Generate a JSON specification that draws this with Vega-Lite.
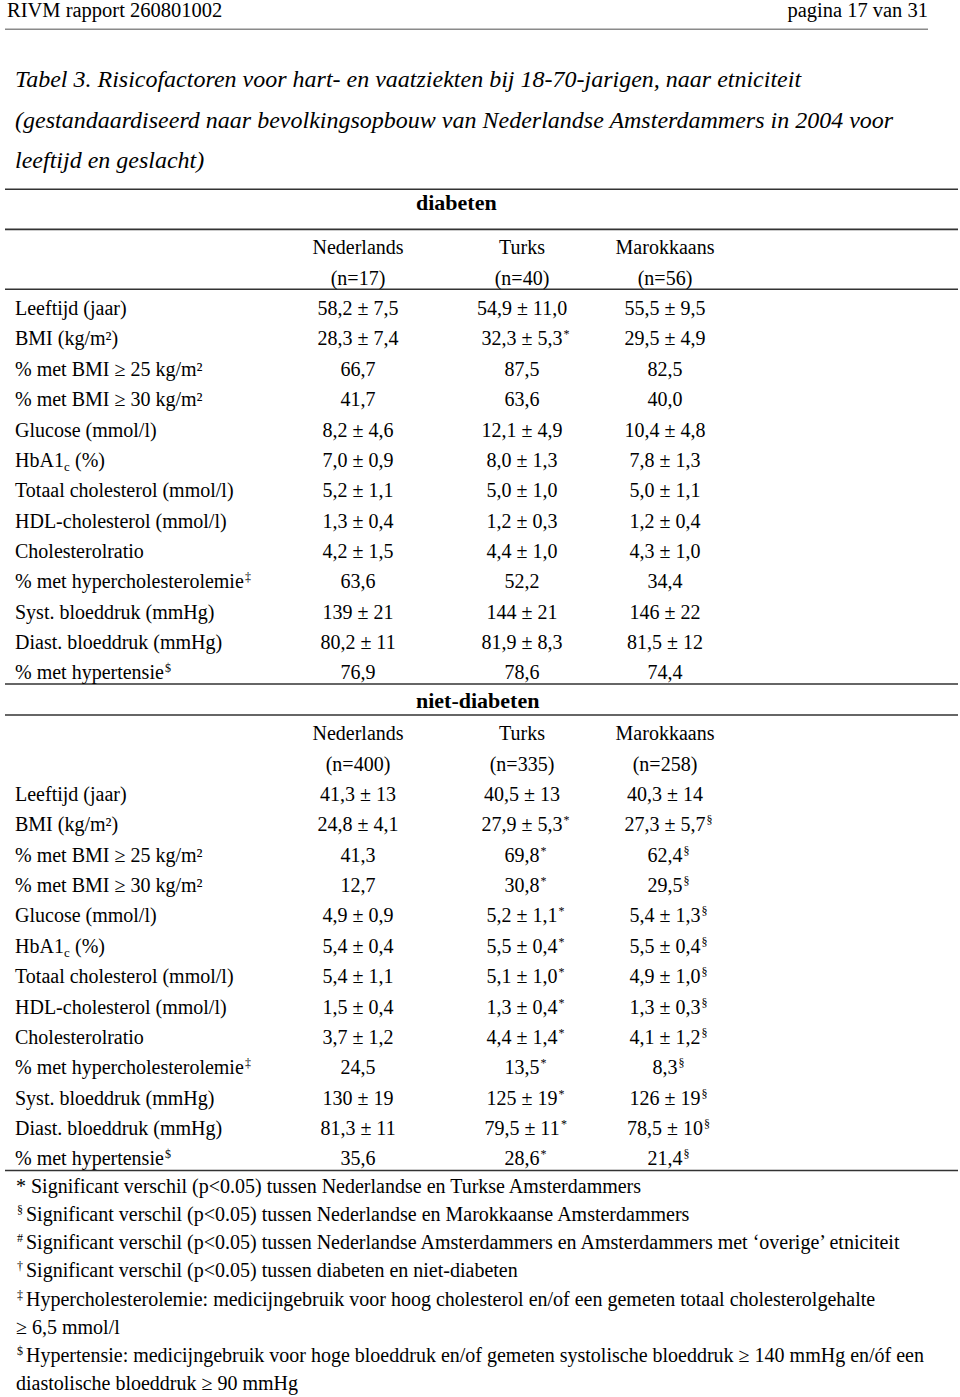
{
  "$schema": "https://vega.github.io/schema/vega-lite/v6.json",
  "width": 960,
  "height": 1397,
  "autosize": {"type": "fit", "contains": "padding"},
  "padding": 0,
  "background": "white",
  "config": {
    "view": {"stroke": null},
    "text": {"font": "Liberation Serif", "fontSize": 20, "color": "#000000", "baseline": "alphabetic"}
  },
  "datasets": {
    "page": [
      {"line": 0, "c": -1, "kind": "left", "t": "RIVM rapport 260801002"},
      {"line": 0, "c": 4, "kind": "right", "t": "pagina 17 van 31"},
      {"line": 1, "c": -1, "c2": 4, "kind": "rule"}
    ],
    "title": [
      {"line": 1, "c": 0, "t": "Tabel 3. Risicofactoren voor hart- en vaatziekten bij 18-70-jarigen, naar etniciteit"},
      {"line": 2, "c": 0, "t": "(gestandaardiseerd naar bevolkingsopbouw van Nederlandse Amsterdammers in 2004 voor"},
      {"line": 3, "c": 0, "t": "leeftijd en geslacht)"}
    ],
    "cells": [
      {"row": 0, "c": 1, "v": "Nederlands"}, {"row": 0, "c": 2, "v": "Turks"}, {"row": 0, "c": 3, "v": "Marokkaans"},
      {"row": 1, "c": 1, "v": "(n=17)"}, {"row": 1, "c": 2, "v": "(n=40)"}, {"row": 1, "c": 3, "v": "(n=56)"},
      {"row": 2, "c": 0, "v": "Leeftijd (jaar)"}, {"row": 2, "c": 1, "v": "58,2 ± 7,5"}, {"row": 2, "c": 2, "v": "54,9 ± 11,0"}, {"row": 2, "c": 3, "v": "55,5 ± 9,5"},
      {"row": 3, "c": 0, "v": "BMI (kg/m²)"}, {"row": 3, "c": 1, "v": "28,3 ± 7,4"}, {"row": 3, "c": 2, "v": "32,3 ± 5,3", "s": "*"}, {"row": 3, "c": 3, "v": "29,5 ± 4,9"},
      {"row": 4, "c": 0, "v": "% met BMI ≥ 25 kg/m²"}, {"row": 4, "c": 1, "v": "66,7"}, {"row": 4, "c": 2, "v": "87,5"}, {"row": 4, "c": 3, "v": "82,5"},
      {"row": 5, "c": 0, "v": "% met BMI ≥ 30 kg/m²"}, {"row": 5, "c": 1, "v": "41,7"}, {"row": 5, "c": 2, "v": "63,6"}, {"row": 5, "c": 3, "v": "40,0"},
      {"row": 6, "c": 0, "v": "Glucose (mmol/l)"}, {"row": 6, "c": 1, "v": "8,2 ± 4,6"}, {"row": 6, "c": 2, "v": "12,1 ± 4,9"}, {"row": 6, "c": 3, "v": "10,4 ± 4,8"},
      {"row": 7, "c": 0, "v": "HbA1"}, {"row": 7, "c": 1, "v": "7,0 ± 0,9"}, {"row": 7, "c": 2, "v": "8,0 ± 1,3"}, {"row": 7, "c": 3, "v": "7,8 ± 1,3"},
      {"row": 8, "c": 0, "v": "Totaal cholesterol (mmol/l)"}, {"row": 8, "c": 1, "v": "5,2 ± 1,1"}, {"row": 8, "c": 2, "v": "5,0 ± 1,0"}, {"row": 8, "c": 3, "v": "5,0 ± 1,1"},
      {"row": 9, "c": 0, "v": "HDL-cholesterol (mmol/l)"}, {"row": 9, "c": 1, "v": "1,3 ± 0,4"}, {"row": 9, "c": 2, "v": "1,2 ± 0,3"}, {"row": 9, "c": 3, "v": "1,2 ± 0,4"},
      {"row": 10, "c": 0, "v": "Cholesterolratio"}, {"row": 10, "c": 1, "v": "4,2 ± 1,5"}, {"row": 10, "c": 2, "v": "4,4 ± 1,0"}, {"row": 10, "c": 3, "v": "4,3 ± 1,0"},
      {"row": 11, "c": 0, "v": "% met hypercholesterolemie"}, {"row": 11, "c": 1, "v": "63,6"}, {"row": 11, "c": 2, "v": "52,2"}, {"row": 11, "c": 3, "v": "34,4"},
      {"row": 12, "c": 0, "v": "Syst. bloeddruk (mmHg)"}, {"row": 12, "c": 1, "v": "139 ± 21"}, {"row": 12, "c": 2, "v": "144 ± 21"}, {"row": 12, "c": 3, "v": "146 ± 22"},
      {"row": 13, "c": 0, "v": "Diast. bloeddruk (mmHg)"}, {"row": 13, "c": 1, "v": "80,2 ± 11"}, {"row": 13, "c": 2, "v": "81,9 ± 8,3"}, {"row": 13, "c": 3, "v": "81,5 ± 12"},
      {"row": 14, "c": 0, "v": "% met hypertensie"}, {"row": 14, "c": 1, "v": "76,9"}, {"row": 14, "c": 2, "v": "78,6"}, {"row": 14, "c": 3, "v": "74,4"},
      {"row": 16, "c": 1, "v": "Nederlands"}, {"row": 16, "c": 2, "v": "Turks"}, {"row": 16, "c": 3, "v": "Marokkaans"},
      {"row": 17, "c": 1, "v": "(n=400)"}, {"row": 17, "c": 2, "v": "(n=335)"}, {"row": 17, "c": 3, "v": "(n=258)"},
      {"row": 18, "c": 0, "v": "Leeftijd (jaar)"}, {"row": 18, "c": 1, "v": "41,3 ± 13"}, {"row": 18, "c": 2, "v": "40,5 ± 13"}, {"row": 18, "c": 3, "v": "40,3 ± 14"},
      {"row": 19, "c": 0, "v": "BMI (kg/m²)"}, {"row": 19, "c": 1, "v": "24,8 ± 4,1"}, {"row": 19, "c": 2, "v": "27,9 ± 5,3", "s": "*"}, {"row": 19, "c": 3, "v": "27,3 ± 5,7", "s": "§"},
      {"row": 20, "c": 0, "v": "% met BMI ≥ 25 kg/m²"}, {"row": 20, "c": 1, "v": "41,3"}, {"row": 20, "c": 2, "v": "69,8", "s": "*"}, {"row": 20, "c": 3, "v": "62,4", "s": "§"},
      {"row": 21, "c": 0, "v": "% met BMI ≥ 30 kg/m²"}, {"row": 21, "c": 1, "v": "12,7"}, {"row": 21, "c": 2, "v": "30,8", "s": "*"}, {"row": 21, "c": 3, "v": "29,5", "s": "§"},
      {"row": 22, "c": 0, "v": "Glucose (mmol/l)"}, {"row": 22, "c": 1, "v": "4,9 ± 0,9"}, {"row": 22, "c": 2, "v": "5,2 ± 1,1", "s": "*"}, {"row": 22, "c": 3, "v": "5,4 ± 1,3", "s": "§"},
      {"row": 23, "c": 0, "v": "HbA1"}, {"row": 23, "c": 1, "v": "5,4 ± 0,4"}, {"row": 23, "c": 2, "v": "5,5 ± 0,4", "s": "*"}, {"row": 23, "c": 3, "v": "5,5 ± 0,4", "s": "§"},
      {"row": 24, "c": 0, "v": "Totaal cholesterol (mmol/l)"}, {"row": 24, "c": 1, "v": "5,4 ± 1,1"}, {"row": 24, "c": 2, "v": "5,1 ± 1,0", "s": "*"}, {"row": 24, "c": 3, "v": "4,9 ± 1,0", "s": "§"},
      {"row": 25, "c": 0, "v": "HDL-cholesterol (mmol/l)"}, {"row": 25, "c": 1, "v": "1,5 ± 0,4"}, {"row": 25, "c": 2, "v": "1,3 ± 0,4", "s": "*"}, {"row": 25, "c": 3, "v": "1,3 ± 0,3", "s": "§"},
      {"row": 26, "c": 0, "v": "Cholesterolratio"}, {"row": 26, "c": 1, "v": "3,7 ± 1,2"}, {"row": 26, "c": 2, "v": "4,4 ± 1,4", "s": "*"}, {"row": 26, "c": 3, "v": "4,1 ± 1,2", "s": "§"},
      {"row": 27, "c": 0, "v": "% met hypercholesterolemie"}, {"row": 27, "c": 1, "v": "24,5"}, {"row": 27, "c": 2, "v": "13,5", "s": "*"}, {"row": 27, "c": 3, "v": "8,3", "s": "§"},
      {"row": 28, "c": 0, "v": "Syst. bloeddruk (mmHg)"}, {"row": 28, "c": 1, "v": "130 ± 19"}, {"row": 28, "c": 2, "v": "125 ± 19", "s": "*"}, {"row": 28, "c": 3, "v": "126 ± 19", "s": "§"},
      {"row": 29, "c": 0, "v": "Diast. bloeddruk (mmHg)"}, {"row": 29, "c": 1, "v": "81,3 ± 11"}, {"row": 29, "c": 2, "v": "79,5 ± 11", "s": "*"}, {"row": 29, "c": 3, "v": "78,5 ± 10", "s": "§"},
      {"row": 30, "c": 0, "v": "% met hypertensie"}, {"row": 30, "c": 1, "v": "35,6"}, {"row": 30, "c": 2, "v": "28,6", "s": "*"}, {"row": 30, "c": 3, "v": "21,4", "s": "§"}
    ],
    "lparts": [
      {"row": 7, "c": 0, "k": "sub", "t": "c"},
      {"row": 7, "c": 0, "k": "rest", "t": "(%)"},
      {"row": 23, "c": 0, "k": "sub", "t": "c"},
      {"row": 23, "c": 0, "k": "rest", "t": "(%)"},
      {"row": 11, "c": 0, "k": "chol", "t": "‡"},
      {"row": 27, "c": 0, "k": "chol", "t": "‡"},
      {"row": 14, "c": 0, "k": "hyp", "t": "$"},
      {"row": 30, "c": 0, "k": "hyp", "t": "$"}
    ],
    "groups": [
      {"row": -1.46, "c": 2, "t": "diabeten"},
      {"row": 14.93, "c": 2, "t": "niet-diabeten"}
    ],
    "rules": [
      {"row": -2.14, "c": -1, "c2": 5},
      {"row": -0.82, "c": -1, "c2": 5},
      {"row": 1.15, "c": -1, "c2": 5},
      {"row": 14.15, "c": -1, "c2": 5},
      {"row": 15.17, "c": -1, "c2": 5},
      {"row": 30.17, "c": -1, "c2": 5}
    ],
    "foot": [
      {"line": 1, "c": 0, "sym": "", "t": "* Significant verschil (p<0.05) tussen Nederlandse en Turkse Amsterdammers"},
      {"line": 2, "c": 0, "sym": "§", "t": "Significant verschil (p<0.05) tussen Nederlandse en Marokkaanse Amsterdammers"},
      {"line": 3, "c": 0, "sym": "#", "t": "Significant verschil (p<0.05) tussen Nederlandse Amsterdammers en Amsterdammers met ‘overige’ etniciteit"},
      {"line": 4, "c": 0, "sym": "†", "t": "Significant verschil (p<0.05) tussen diabeten en niet-diabeten"},
      {"line": 5, "c": 0, "sym": "‡", "t": "Hypercholesterolemie: medicijngebruik voor hoog cholesterol en/of een gemeten totaal cholesterolgehalte"},
      {"line": 6, "c": 0, "sym": "", "t": "≥ 6,5 mmol/l"},
      {"line": 7, "c": 0, "sym": "$", "t": "Hypertensie: medicijngebruik voor hoge bloeddruk en/of gemeten systolische bloeddruk ≥ 140 mmHg en/óf een"},
      {"line": 8, "c": 0, "sym": "", "t": "diastolische bloeddruk ≥ 90 mmHg"}
    ]
  },
  "encoding": {
    "x": {
      "field": "c",
      "type": "quantitative",
      "scale": {"domain": [-1, 0, 1, 2, 3, 4, 5], "range": [5, 15, 358, 522, 665, 928, 958], "zero": false, "nice": false},
      "axis": null
    }
  },
  "resolve": {"scale": {"y": "independent"}},
  "layer": [
    {
      "data": {"name": "page"},
      "encoding": {
        "y": {"field": "line", "type": "quantitative", "scale": {"domain": [0, 1], "range": [17.3, 29.3], "zero": false, "nice": false}, "axis": null}
      },
      "layer": [
        {"transform": [{"filter": "datum.kind == 'left'"}], "mark": {"type": "text", "align": "left", "dx": 2, "fontSize": 20.5}, "encoding": {"text": {"field": "t"}}},
        {"transform": [{"filter": "datum.kind == 'right'"}], "mark": {"type": "text", "align": "right", "fontSize": 20.5}, "encoding": {"text": {"field": "t"}}},
        {"transform": [{"filter": "datum.kind == 'rule'"}], "mark": {"type": "rule", "color": "#8a8a8a", "strokeWidth": 1.5}, "encoding": {"x2": {"field": "c2"}}}
      ]
    },
    {
      "data": {"name": "title"},
      "encoding": {
        "y": {"field": "line", "type": "quantitative", "scale": {"domain": [1, 3], "range": [86.7, 168.3], "zero": false, "nice": false}, "axis": null}
      },
      "layer": [
        {"mark": {"type": "text", "align": "left", "fontSize": 24, "fontStyle": "italic"}, "encoding": {"text": {"field": "t"}}}
      ]
    },
    {
      "encoding": {
        "y": {"field": "row", "type": "quantitative", "scale": {"domain": [0, 30], "range": [254.3, 1165.4], "zero": false, "nice": false}, "axis": null}
      },
      "layer": [
        {"data": {"name": "rules"}, "mark": {"type": "rule", "color": "#333333", "strokeWidth": 1.6}, "encoding": {"x2": {"field": "c2"}}},
        {"data": {"name": "groups"}, "mark": {"type": "text", "align": "left", "dx": -106, "fontSize": 22, "fontWeight": "bold"}, "encoding": {"text": {"field": "t"}}},
        {"data": {"name": "cells"}, "transform": [{"filter": "datum.c == 0"}], "mark": {"type": "text", "align": "left"}, "encoding": {"text": {"field": "v"}}},
        {"data": {"name": "cells"}, "transform": [{"filter": "datum.c > 0"}], "mark": {"type": "text", "align": "center"}, "encoding": {"text": {"field": "v"}}},
        {"data": {"name": "cells"}, "transform": [{"filter": "datum.s"}], "mark": {"type": "text", "align": "left", "fontSize": 12, "dy": -7,
          "dx": {"expr": "(10*length(datum.v) - 5*(length(split(datum.v, ',')) - 1) - 5*(length(split(datum.v, ' ')) - 1) + 0.98*(length(split(datum.v, '±')) - 1))/2 + 1"}},
          "encoding": {"text": {"field": "s"}}},
        {"data": {"name": "lparts"}, "transform": [{"filter": "datum.k == 'sub'"}], "mark": {"type": "text", "align": "left", "fontSize": 13, "dx": 49, "dy": 4}, "encoding": {"text": {"field": "t"}}},
        {"data": {"name": "lparts"}, "transform": [{"filter": "datum.k == 'rest'"}], "mark": {"type": "text", "align": "left", "dx": 60}, "encoding": {"text": {"field": "t"}}},
        {"data": {"name": "lparts"}, "transform": [{"filter": "datum.k == 'chol'"}], "mark": {"type": "text", "align": "left", "fontSize": 12, "dx": 230, "dy": -7}, "encoding": {"text": {"field": "t"}}},
        {"data": {"name": "lparts"}, "transform": [{"filter": "datum.k == 'hyp'"}], "mark": {"type": "text", "align": "left", "fontSize": 12, "dx": 150, "dy": -7}, "encoding": {"text": {"field": "t"}}}
      ]
    },
    {
      "data": {"name": "foot"},
      "encoding": {
        "y": {"field": "line", "type": "quantitative", "scale": {"domain": [1, 8], "range": [1192.7, 1390.1], "zero": false, "nice": false}, "axis": null}
      },
      "layer": [
        {"transform": [{"filter": "datum.sym == ''"}], "mark": {"type": "text", "align": "left", "dx": 1}, "encoding": {"text": {"field": "t"}}},
        {"transform": [{"filter": "datum.sym != ''"}], "mark": {"type": "text", "align": "left", "fontSize": 12, "dx": 2, "dy": -7}, "encoding": {"text": {"field": "sym"}}},
        {"transform": [{"filter": "datum.sym != ''"}], "mark": {"type": "text", "align": "left", "dx": 11}, "encoding": {"text": {"field": "t"}}}
      ]
    }
  ]
}
